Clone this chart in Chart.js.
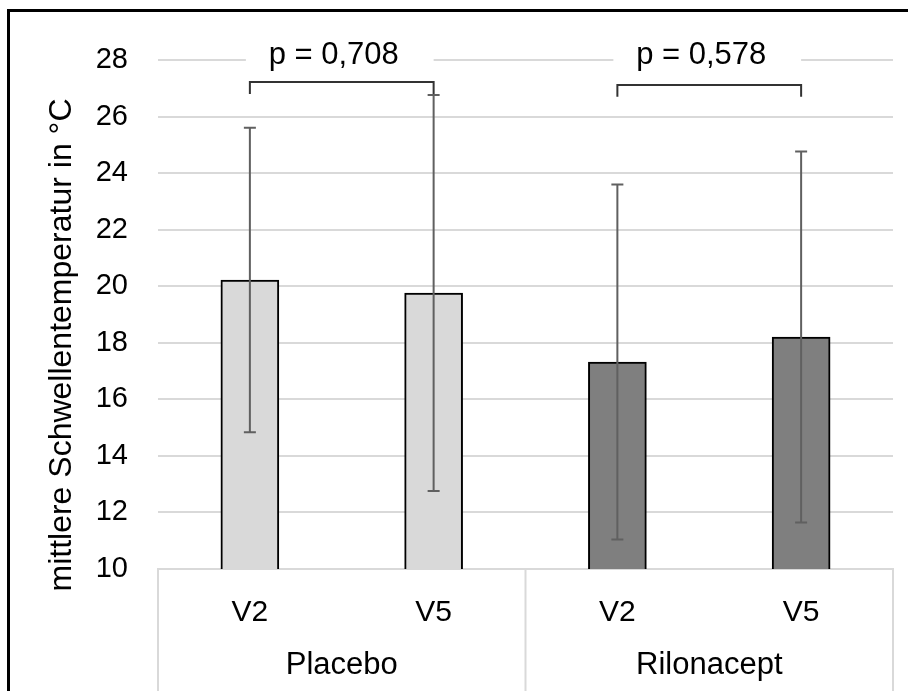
<!DOCTYPE html>
<html>
<head>
<meta charset="utf-8">
<script src="https://cdn.jsdelivr.net/npm/chart.js@4.4.1/dist/chart.umd.min.js"></script>
<style>
    body { margin: 0; background: #fff; }
    #wrap { position: relative; width: 908px; height: 691px; overflow: hidden; }
    #frame { position: absolute; left: 7px; top: 9px; width: 1000px; height: 1000px; border: 3px solid #000; pointer-events: none; }
    canvas { position: absolute; left: 0; top: 0; }
</style>
</head>
<body>
<div id="wrap">
    <canvas id="chart" width="908" height="691"></canvas>
    <div id="frame"></div>
</div>
<script>
// Data
const categories = ['V2', 'V5', 'V2', 'V5'];
const groups = ['Placebo', 'Rilonacept'];
const means = [20.22, 19.76, 17.32, 18.2];
const sds = [5.38, 7.0, 6.28, 6.56];
const barColors = ['#d9d9d9', '#d9d9d9', '#7f7f7f', '#7f7f7f'];
const yTicks = [10, 12, 14, 16, 18, 20, 22, 24, 26, 28];

// p-value brackets: [from category, to category]
const bracketPairs = [[0, 1], [2, 3]];
const bracketLabels = ['p = 0,708', 'p = 0,578'];
const bracketLevels = [27.22, 27.12];
const bracketDrop = 0.42;
const labelLevel = 28.15;

const FONT = "'Liberation Sans', Arial, sans-serif";
const yTitle = 'mittlere Schwellentemperatur in °C';

// Error bars (mean ± sd)
const errorBars = {
    id: 'errorBars',
    afterDatasetsDraw(chart) {
        const { ctx, scales: { x, y } } = chart;
        ctx.save();
        ctx.strokeStyle = '#606060';
        ctx.lineWidth = 2;
        means.forEach((m, i) => {
            const px = x.getPixelForValue(i);
            const top = y.getPixelForValue(m + sds[i]);
            const bot = y.getPixelForValue(m - sds[i]);
            ctx.beginPath();
            ctx.moveTo(px, top); ctx.lineTo(px, bot);
            ctx.moveTo(px - 6, top); ctx.lineTo(px + 6, top);
            ctx.moveTo(px - 6, bot); ctx.lineTo(px + 6, bot);
            ctx.stroke();
        });
        ctx.restore();
    }
};

// Brackets + p values, group axis, y title
const decorations = {
    id: 'decorations',
    afterDraw(chart) {
        const { ctx, chartArea, scales: { x, y } } = chart;
        ctx.save();

        // brackets
        bracketPairs.forEach((pair, i) => {
            const x1 = x.getPixelForValue(pair[0]);
            const x2 = x.getPixelForValue(pair[1]);
            const yl = y.getPixelForValue(bracketLevels[i]);
            const yd = y.getPixelForValue(bracketLevels[i] - bracketDrop);
            const yt = y.getPixelForValue(labelLevel);
            ctx.fillStyle = '#fff';
            ctx.fillRect(x1 - 4, yt - 16, x2 - x1 + 4, 32);
            ctx.strokeStyle = '#333';
            ctx.lineWidth = 2;
            ctx.beginPath();
            ctx.moveTo(x1, yd); ctx.lineTo(x1, yl); ctx.lineTo(x2, yl); ctx.lineTo(x2, yd);
            ctx.stroke();
            ctx.fillStyle = '#000';
            ctx.font = '31px ' + FONT;
            ctx.textAlign = 'center';
            ctx.textBaseline = 'middle';
            ctx.fillText(bracketLabels[i], (x1 + x2) / 2 - 8, yt);
        });

        // group axis: separators + labels
        const bottom = chart.height;
        const half = (x.getPixelForValue(1) + x.getPixelForValue(2)) / 2;
        ctx.strokeStyle = '#d9d9d9';
        ctx.lineWidth = 2;
        ctx.beginPath();
        [chartArea.left, half, chartArea.right].forEach(px => {
            ctx.moveTo(px, chartArea.bottom); ctx.lineTo(px, bottom);
        });
        ctx.stroke();
        ctx.fillStyle = '#000';
        ctx.font = '31px ' + FONT;
        ctx.textAlign = 'center';
        ctx.textBaseline = 'middle';
        ctx.fillText(groups[0], (chartArea.left + half) / 2, 665);
        ctx.fillText(groups[1], (half + chartArea.right) / 2, 665);

        // y axis title
        ctx.font = '32px ' + FONT;
        ctx.translate(62, 345);
        ctx.rotate(-Math.PI / 2);
        ctx.fillText(yTitle, 0, 0);
        ctx.restore();
    }
};

const ctx = document.getElementById('chart').getContext('2d');
new Chart(ctx, {
    type: 'bar',
    data: {
        labels: categories,
        datasets: [{
            data: means,
            backgroundColor: barColors,
            borderColor: '#000',
            borderWidth: 2,
            barThickness: 58
        }]
    },
    options: {
        responsive: false,
        animation: false,
        events: [],
        layout: { padding: { top: 60, right: 15, left: 0, bottom: 0 } },
        plugins: { legend: { display: false }, tooltip: { enabled: false } },
        scales: {
            x: {
                grid: { display: false },
                border: { display: true, color: '#d9d9d9', width: 2 },
                ticks: { color: '#000', font: { family: FONT, size: 30 }, padding: 18 },
                afterFit(scale) { scale.height = 122; }
            },
            y: {
                min: 10,
                max: 28,
                afterBuildTicks(scale) { scale.ticks = yTicks.map(v => ({ value: v })); },
                grid: { color: '#d9d9d9', lineWidth: 2, drawTicks: false },
                border: { display: false },
                ticks: { color: '#000', font: { family: FONT, size: 29 }, padding: 30 },
                afterFit(scale) { scale.width = 158; }
            }
        }
    },
    plugins: [errorBars, decorations]
});
</script>
</body>
</html>
